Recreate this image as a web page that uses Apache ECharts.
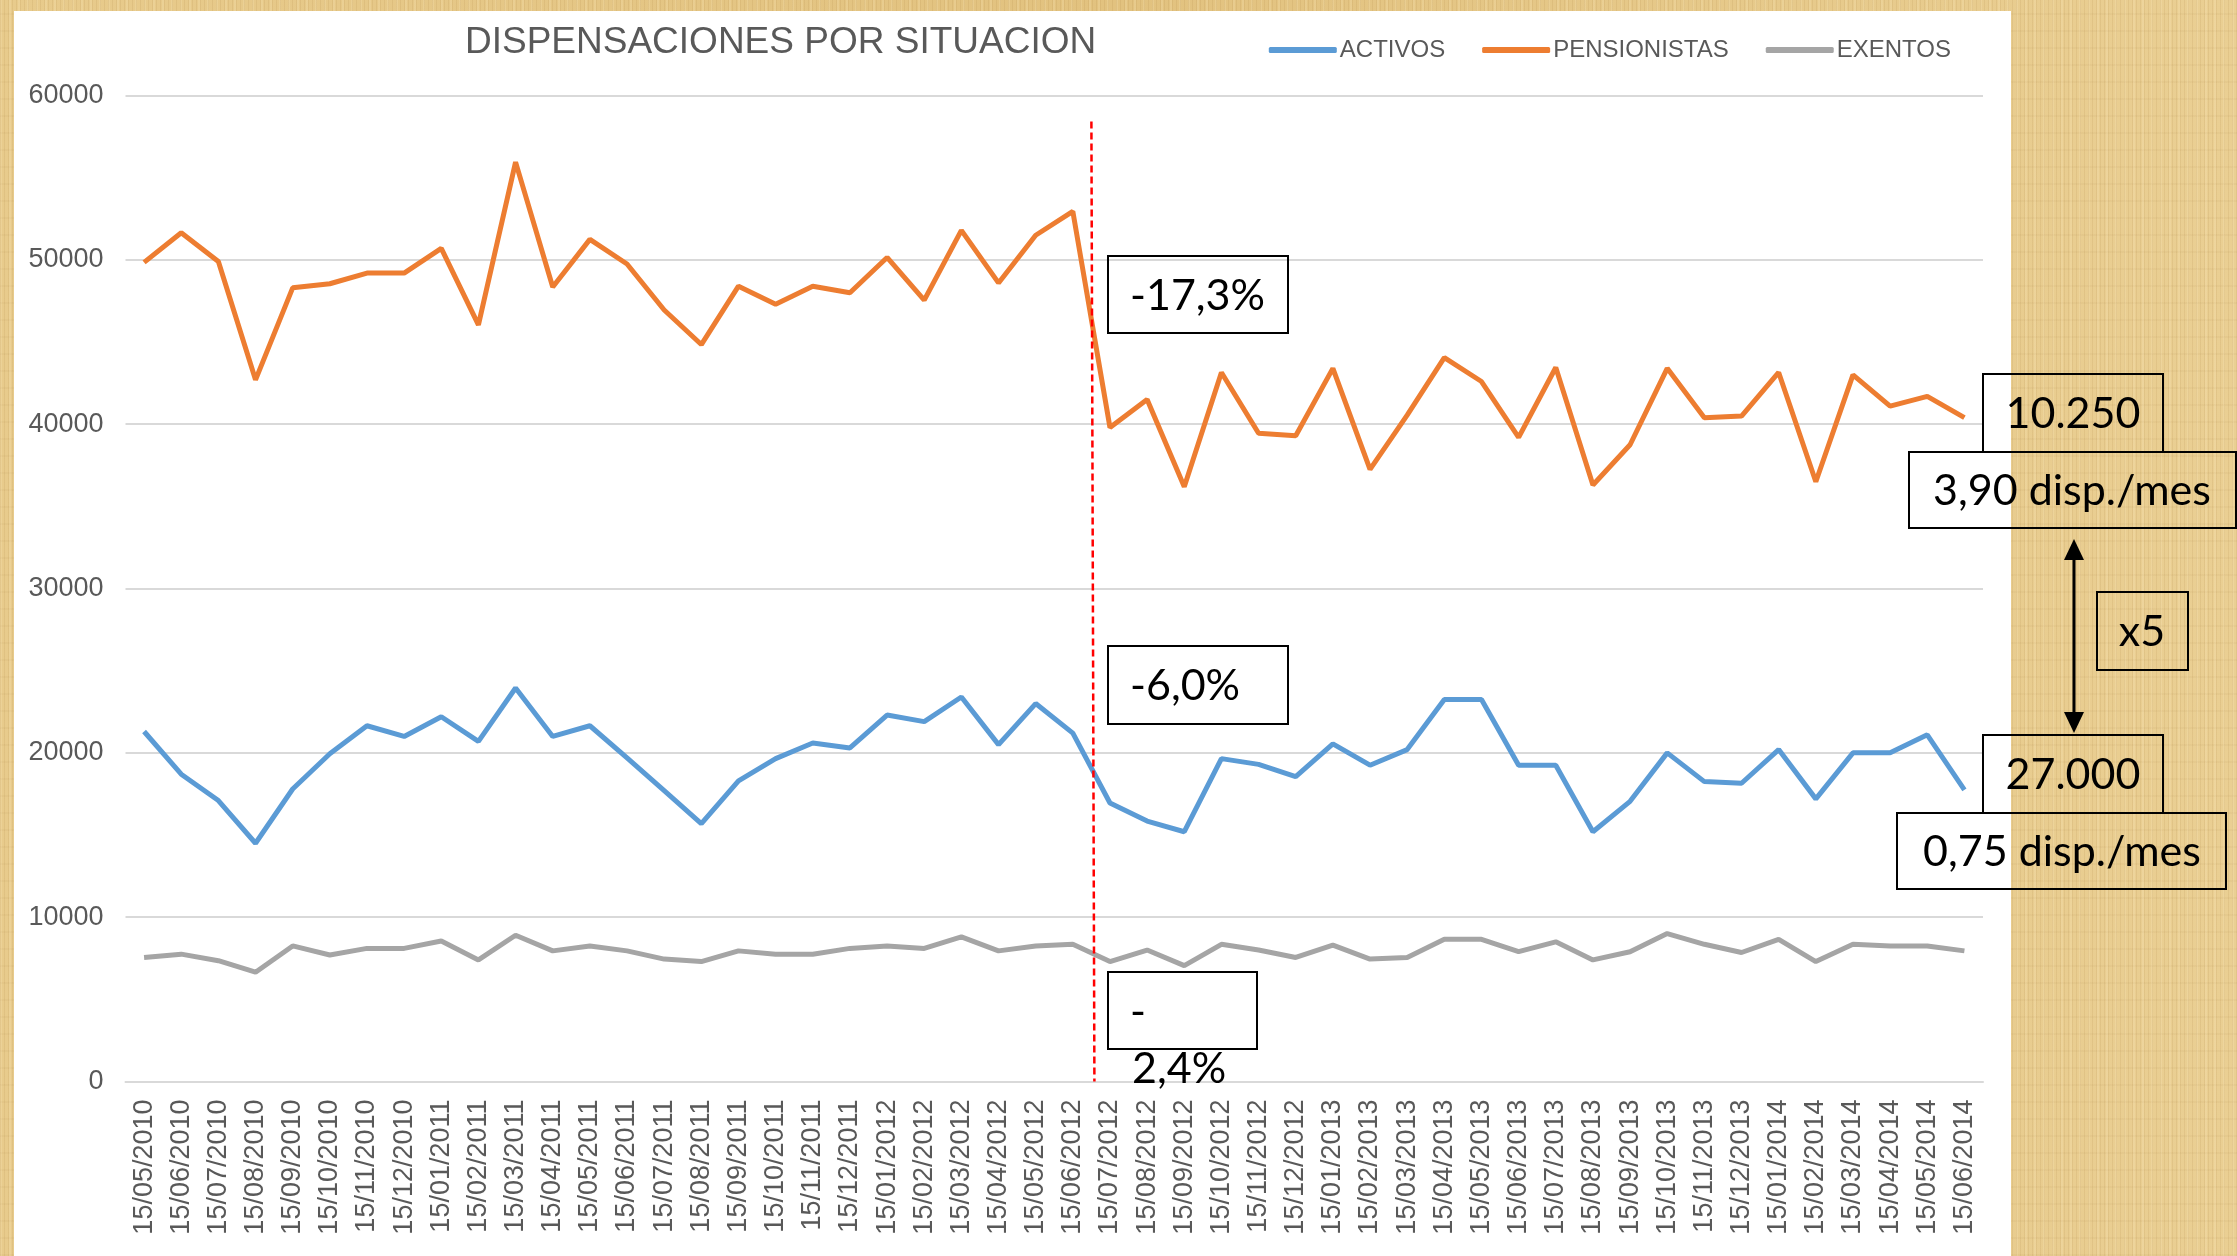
<!DOCTYPE html>
<html>
<head>
<meta charset="utf-8">
<script src="https://cdn.jsdelivr.net/npm/echarts@6/dist/echarts.min.js"></script>
<style>
  html, body { margin:0; padding:0; width:2237px; height:1256px; overflow:hidden; }
  body {
    background-color:#E4C685;
    background-image:
      repeating-linear-gradient(90deg, rgba(150,105,40,0.10) 0px, rgba(150,105,40,0.10) 1px, rgba(0,0,0,0) 1px, rgba(0,0,0,0) 4px),
      repeating-linear-gradient(90deg, rgba(255,240,200,0.18) 0px, rgba(255,240,200,0.18) 2px, rgba(0,0,0,0) 2px, rgba(0,0,0,0) 9px),
      repeating-linear-gradient(0deg, rgba(140,100,40,0.05) 0px, rgba(140,100,40,0.05) 2px, rgba(0,0,0,0) 2px, rgba(0,0,0,0) 17px),
      linear-gradient(90deg, #E8CB8C, #E2C27F 50%, #EACF93);
  }
  #panel { position:absolute; left:14px; top:11px; width:1997px; height:1245px; background:#fff; }
  #chart { position:absolute; left:0; top:0; width:2237px; height:1256px; }
</style>
</head>
<body>
<div id="panel"></div>
<div id="chart"></div>
<script>
const categories = [
  "15/05/2010","15/06/2010","15/07/2010","15/08/2010","15/09/2010","15/10/2010","15/11/2010","15/12/2010",
  "15/01/2011","15/02/2011","15/03/2011","15/04/2011","15/05/2011","15/06/2011","15/07/2011","15/08/2011",
  "15/09/2011","15/10/2011","15/11/2011","15/12/2011","15/01/2012","15/02/2012","15/03/2012","15/04/2012",
  "15/05/2012","15/06/2012","15/07/2012","15/08/2012","15/09/2012","15/10/2012","15/11/2012","15/12/2012",
  "15/01/2013","15/02/2013","15/03/2013","15/04/2013","15/05/2013","15/06/2013","15/07/2013","15/08/2013",
  "15/09/2013","15/10/2013","15/11/2013","15/12/2013","15/01/2014","15/02/2014","15/03/2014","15/04/2014",
  "15/05/2014","15/06/2014"
];
const activos = [21300,18700,17100,14500,17800,19950,21650,21000,22200,20700,23950,21000,21650,19700,17700,15700,18300,19650,20600,20300,22300,21900,23400,20500,23000,21200,16950,15850,15200,19650,19300,18550,20550,19250,20200,23250,23250,19250,19250,15200,17050,20000,18250,18150,20200,17200,20000,20000,21100,17750];
const pensionistas = [49850,51650,49900,42700,48300,48550,49200,49200,50700,46050,55950,48350,51250,49750,46950,44850,48400,47300,48400,48000,50150,47550,51800,48600,51500,52950,39800,41500,36200,43150,39450,39300,43400,37250,40550,44050,42600,39200,43450,36300,38750,43400,40400,40500,43150,36500,43000,41100,41700,40400];
const exentos = [7550,7750,7350,6650,8250,7700,8100,8100,8550,7400,8900,7950,8250,7950,7450,7300,7950,7750,7750,8100,8250,8100,8800,7950,8250,8350,7300,8000,7050,8350,8000,7550,8300,7450,7550,8650,8650,7900,8500,7400,7900,9000,8350,7850,8650,7300,8350,8250,8250,7950];
const seriesNames = ["ACTIVOS","PENSIONISTAS","EXENTOS"];
const seriesColors = ["#5B9BD5","#ED7D31","#A5A5A5"];
const titleText = "DISPENSACIONES POR SITUACION";
const yTicks = { min: 0, max: 60000, interval: 10000 };
const breakIndex = 25; // cambio entre 15/06/2012 y 15/07/2012

const chart = echarts.init(document.getElementById('chart'), null, { renderer: 'canvas' });
const FONT = '"Liberation Sans", Arial, sans-serif';

chart.setOption({
  animation: false,
  backgroundColor: 'transparent',
  title: {
    text: titleText,
    left: 460, top: 19,
    textStyle: { fontFamily: FONT, fontSize: 37, fontWeight: 'normal', color: '#595959' }
  },
  legend: {
    data: seriesNames,
    right: 281, top: 33,
    icon: 'roundRect',
    itemWidth: 68, itemHeight: 6, itemGap: 37,
    textStyle: { fontFamily: FONT, fontSize: 24, color: '#595959', padding: [0,0,0,-2] }
  },
  grid: { left: 125.5, right: 254, top: 95.6, bottom: 174.5, containLabel: false, outerBoundsMode: 'none' },
  xAxis: {
    type: 'category',
    data: categories,
    boundaryGap: true,
    axisLine: { show: true, lineStyle: { color: '#D9D9D9', width: 2 } },
    axisTick: { show: false },
    axisLabel: { interval: 0, rotate: 90, margin: 18, fontFamily: FONT, fontSize: 27, color: '#595959' }
  },
  yAxis: {
    type: 'value',
    min: yTicks.min, max: yTicks.max, interval: yTicks.interval,
    axisLine: { show: false },
    axisTick: { show: false },
    splitLine: { lineStyle: { color: '#D9D9D9', width: 2 } },
    axisLabel: { margin: 22, fontFamily: FONT, fontSize: 27, color: '#595959', formatter: function (v) { return String(v); } }
  },
  series: [
    { name: seriesNames[0], type: 'line', data: activos, symbol: 'none', lineStyle: { width: 5, color: seriesColors[0] }, itemStyle: { color: seriesColors[0] } },
    { name: seriesNames[1], type: 'line', data: pensionistas, symbol: 'none', lineStyle: { width: 5, color: seriesColors[1] }, itemStyle: { color: seriesColors[1] } },
    { name: seriesNames[2], type: 'line', data: exentos, symbol: 'none', lineStyle: { width: 5, color: seriesColors[2] }, itemStyle: { color: seriesColors[2] } }
  ]
});

// annotations
const xa = chart.convertToPixel({ xAxisIndex: 0 }, categories[breakIndex]);
const xb = chart.convertToPixel({ xAxisIndex: 0 }, categories[breakIndex + 1]);
const xMid = (xa + xb) / 2;
const yTop = chart.convertToPixel({ yAxisIndex: 0 }, yTicks.max) + 26;
const yBot = chart.convertToPixel({ yAxisIndex: 0 }, 0);
const AF = '43px Lato, "Open Sans", sans-serif';

function box(x, y, w, h) {
  return { type: 'rect', z: 50, shape: { x: x, y: y, width: w, height: h }, style: { fill: 'none', stroke: '#000', lineWidth: 2 } };
}
function txt(t, x, y, align) {
  return { type: 'text', z: 51, style: { text: t, x: x, y: y, font: AF, fill: '#000', align: align || 'left', verticalAlign: 'middle' } };
}

chart.setOption({
  graphic: [
    { type: 'line', z: 40, shape: { x1: xMid, y1: yTop, x2: xMid + 3, y2: yBot }, style: { stroke: '#FF0000', lineWidth: 2.5, lineDash: [7, 4] } },
    box(1108, 256, 180, 77), txt('-17,3%', 1130, 296),
    box(1108, 646, 180, 78), txt('-6,0%', 1130, 686),
    box(1108, 972, 149, 77), txt('-', 1130, 1012), txt('2,4%', 1132, 1069),
    box(1983, 374, 180, 78), txt('10.250', 2073, 414, 'center'),
    box(1909, 452, 327, 76), txt('3,90 disp./mes', 2072, 491, 'center'),
    { type: 'line', z: 50, shape: { x1: 2074, y1: 555, x2: 2074, y2: 716 }, style: { stroke: '#000', lineWidth: 3 } },
    { type: 'polygon', z: 50, shape: { points: [[2074, 539], [2064, 560], [2084, 560]] }, style: { fill: '#000' } },
    { type: 'polygon', z: 50, shape: { points: [[2074, 733], [2064, 712], [2084, 712]] }, style: { fill: '#000' } },
    box(2097, 592, 91, 78), txt('x5', 2142, 632, 'center'),
    box(1983, 735, 180, 78), txt('27.000', 2073, 775, 'center'),
    box(1897, 813, 329, 76), txt('0,75 disp./mes', 2062, 852, 'center')
  ]
});
</script>
</body>
</html>
